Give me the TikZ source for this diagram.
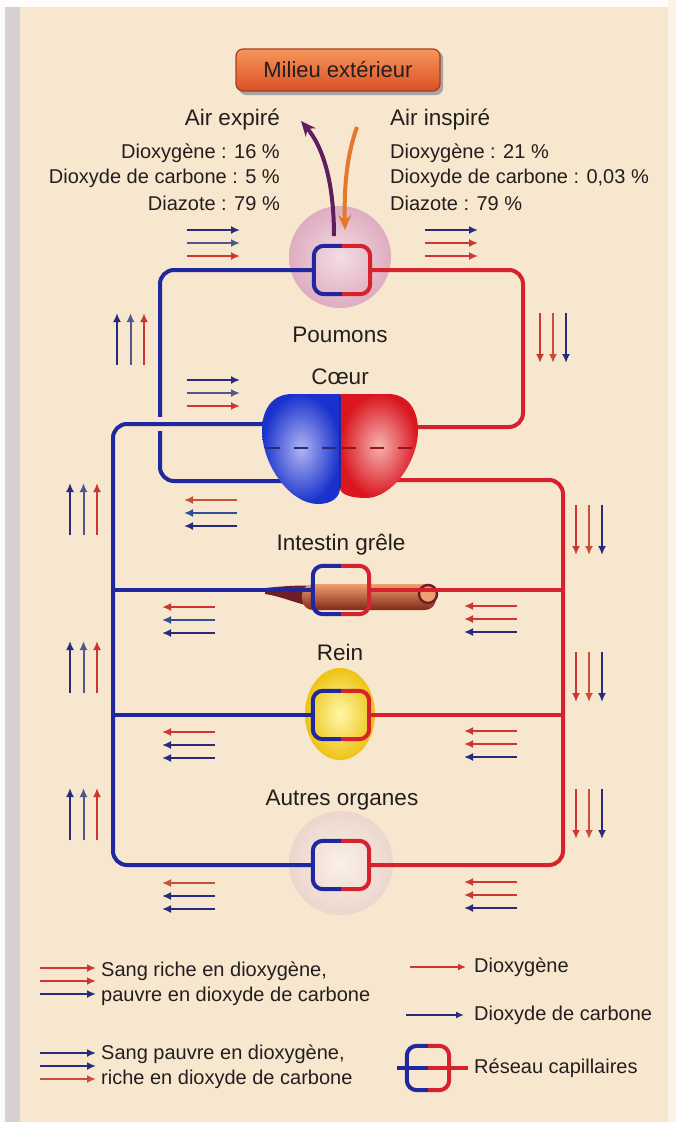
\documentclass[tikz,border=0pt]{standalone}
\usepackage{fontspec}
\setmainfont{Liberation Sans}
\usetikzlibrary{arrows.meta,shapes.geometric}

\definecolor{paper}{RGB}{247,231,206}
\definecolor{strip}{RGB}{214,207,212}
\definecolor{ink}{RGB}{35,30,30}
\definecolor{vblue}{RGB}{32,40,160}
\definecolor{vred}{RGB}{214,34,44}
\definecolor{anavy}{RGB}{40,42,125}
\definecolor{aslate}{RGB}{78,88,140}
\definecolor{ateal}{RGB}{45,80,150}
\definecolor{ared}{RGB}{205,55,50}
\definecolor{aorange}{RGB}{200,80,55}
\definecolor{exhale}{RGB}{95,30,95}
\definecolor{inhale}{RGB}{228,120,45}
\definecolor{boxtop}{RGB}{246,150,90}
\definecolor{boxbot}{RGB}{218,80,38}
\definecolor{boxedge}{RGB}{170,60,30}
\definecolor{gutlight}{RGB}{238,160,110}
\definecolor{gutdark}{RGB}{130,40,25}
\definecolor{gutedge}{RGB}{110,30,40}
\definecolor{lungin}{RGB}{243,220,228}
\definecolor{lungout}{RGB}{222,172,192}
\definecolor{kidneyin}{RGB}{255,248,170}
\definecolor{kidneyout}{RGB}{238,195,20}
\definecolor{tissuein}{RGB}{250,240,230}
\definecolor{tissueout}{RGB}{236,214,205}
\definecolor{heartbluein}{RGB}{175,180,242}
\definecolor{heartblueout}{RGB}{25,50,205}
\definecolor{heartredin}{RGB}{246,178,175}
\definecolor{heartredout}{RGB}{218,22,32}
\definecolor{heartseam}{RGB}{150,20,30}

\tikzset{
  vessel/.style={line width=4pt, line cap=round, rounded corners=14pt},
  capnet/.style={minimum width=56pt, minimum height=48pt, inner sep=0pt, draw=none},
  caphalf/.style={line width=4pt, rounded corners=10pt},
  flow/.style={line width=2pt, -{Latex[length=9pt,width=8pt]}},
  thinflow/.style={line width=1.5pt, -{Latex[length=8pt,width=7pt]}},
  txt/.style={font=\fontsize{20}{24}\selectfont, text=ink, inner sep=0pt},
  organ/.style={font=\fontsize{22.5}{26}\selectfont, text=ink, inner sep=0pt},
  airarrow/.style={line width=4pt, -{Stealth[length=15pt,width=13pt]}},
}

\begin{document}
\begin{tikzpicture}[x=1pt,y=-1pt]
\useasboundingbox (0,0) rectangle (676,1122);

% paper and page edge
\fill[paper] (0,0) rectangle (676,1122);
\fill[white!92!paper] (0,0) rectangle (676,7);
\fill[white!90!strip] (0,0) rectangle (5,1122);
\fill[strip] (5,7) rectangle (20,1122);
\fill[white!50!paper] (668,0) rectangle (676,1122);

% ---------- organs (under the vessels) ----------
\node[circle, minimum size=102pt, inner sep=0pt] (poumons) at (340,257) {};
\shade[inner color=lungin, outer color=lungout] (poumons.center) circle (51);

% small intestine
\node[minimum width=175pt, minimum height=30pt, inner sep=0pt] (intestin) at (352,597) {};
\fill[gutedge] (265,588) .. controls (285,586) and (300,585) .. (310,586)
  -- (310,606) .. controls (295,603) and (280,596) .. (265,594) -- cycle;
\shade[top color=gutlight, bottom color=gutdark, rounded corners=11pt] (302,584) rectangle (436,610);
\draw[line width=2.5pt, gutedge, fill=gutlight] (428,594) circle (9);

% kidney
\node[ellipse, minimum width=70pt, minimum height=92pt, inner sep=0pt] (rein) at (340,714) {};
\shade[inner color=kidneyin, outer color=kidneyout] (rein.center) ellipse (35 and 46);

% other organs
\node[circle, minimum size=104pt, inner sep=0pt] (autres) at (341,863) {};
\shade[inner color=tissuein, outer color=tissueout] (autres.center) circle (52);

% ---------- capillary networks ----------
\node[capnet] (capP) at (342,270) {};
\node[capnet] (capI) at (341,590) {};
\node[capnet] (capR) at (341,715) {};
\node[capnet] (capA) at (341,865) {};

% heart attachment points
\coordinate (hBlueUp) at (285,424);
\coordinate (hBlueLow) at (290,481);
\coordinate (hRedUp) at (395,427);
\coordinate (hRedLow) at (395,480);

% ---------- vessels ----------
% pulmonary circuit
\draw[vessel, vblue] (hBlueLow) -- (160,481) -- (160,270) -- (capP.west);
\draw[vessel, vred] (capP.east) -- (523,270) -- (523,427) -- (hRedUp);
% systemic circuit (with a gap where it crosses the pulmonary return)
\draw[line width=14pt, paper] (140,424) -- (180,424);
\draw[vessel, vblue] (hBlueUp) -- (113,424) -- (113,865) -- (capA.west);
\draw[vessel, vblue] (113,590) -- (capI.west);
\draw[vessel, vblue] (113,715) -- (capR.west);
\draw[vessel, vred] (hRedLow) -- (563,480) -- (563,865) -- (capA.east);
\draw[vessel, vred] (capI.east) -- (563,590);
\draw[vessel, vred] (capR.east) -- (563,715);

% capillary loops: venous half blue, arterial half red
\foreach \cn in {capP,capI,capR,capA} {
  \draw[caphalf, vblue] (\cn.north) -- (\cn.north west) -- (\cn.south west) -- (\cn.south);
  \draw[caphalf, vred] (\cn.north) -- (\cn.north east) -- (\cn.south east) -- (\cn.south);
}

% ---------- heart ----------
\node[minimum width=156pt, minimum height=110pt, inner sep=0pt] (coeur) at (340,449) {};
\shade[inner color=heartbluein, outer color=heartblueout]
  (340,394) -- (292,394) .. controls (272,394) and (262,410) .. (262,430)
  .. controls (262,465) and (290,504) .. (318,504)
  .. controls (332,504) and (340,497) .. (340,488) -- cycle;
\shade[inner color=heartredin, outer color=heartredout]
  (340,394) -- (388,394) .. controls (408,394) and (418,410) .. (418,430)
  .. controls (418,462) and (392,498) .. (366,498)
  .. controls (350,498) and (340,494) .. (340,488) -- cycle;
\draw[line width=2pt, vblue] (340,396) -- (340,488);
\draw[line width=2pt, anavy, dash pattern=on 14pt off 14pt] (266,448) -- (339,448);
\draw[line width=2pt, heartseam, dash pattern=on 14pt off 14pt] (342,448) -- (414,448);

% ---------- outside air ----------
\fill[black!35, rounded corners=7pt] (239,51) rectangle (443,95);
\node[top color=boxtop, bottom color=boxbot, draw=boxedge, line width=1.2pt, rounded corners=7pt,
  minimum width=204pt, minimum height=42pt, inner sep=0pt,
  font=\fontsize{22}{26}\selectfont, text=ink] (milieu) at (338,70) {Milieu extérieur};

\coordinate (exhStart) at (334,236);
\coordinate (exhEnd) at (301,121);
\coordinate (inhStart) at (357,127);
\coordinate (inhEnd) at (345,230);
\draw[airarrow, exhale] (exhStart) .. controls (334,185) and (324,148) .. (exhEnd);
\draw[airarrow, inhale] (inhStart) .. controls (347,155) and (344,185) .. (inhEnd);

\node[organ, anchor=east] (airexp) at (280,120) {Air expiré};
\node[txt, anchor=east] (exp1) at (280,153) {Dioxygène : 16 \%};
\node[txt, anchor=east] (exp2) at (280,178) {Dioxyde de carbone : 5 \%};
\node[txt, anchor=east] (exp3) at (280,203) {Diazote : 79 \%};
\node[organ, anchor=west] (airins) at (390,120) {Air inspiré};
\node[txt, anchor=west] (ins1) at (390,153) {Dioxygène : 21 \%};
\node[txt, anchor=west] (ins2) at (390,178) {Dioxyde de carbone : 0,03 \%};
\node[txt, anchor=west] (ins3) at (390,203) {Diazote : 79 \%};

% ---------- organ labels ----------
\node[organ] (lPoumons) at (340,335) {Poumons};
\node[organ] (lCoeur) at (340,377) {Cœur};
\node[organ] (lIntestin) at (341,545) {Intestin grêle};
\node[organ] (lRein) at (340,652) {Rein};
\node[organ] (lAutres) at (342,800) {Autres organes};

% ---------- flows of gases in the blood ----------
% rightward triplets
\foreach \nm/\x/\y/\ca/\cb/\cc in {A/187/230/anavy/aslate/ared, B/425/230/anavy/ared/ared, E/187/380/anavy/aslate/ared} {
  \coordinate (flow\nm) at (\x,\y);
  \draw[flow, \ca] (flow\nm) -- ++(53,0);
  \draw[flow, \cb] ([yshift=-13pt]flow\nm) -- ++(53,0);
  \draw[flow, \cc] ([yshift=-26pt]flow\nm) -- ++(53,0);
}
% leftward triplets
\foreach \nm/\x/\y/\ca/\cb/\cc in {F/237/500/aorange/ateal/anavy, I/215/607/ared/ateal/anavy,
    J/517/606/ared/ared/anavy, M/215/732/ared/anavy/anavy, N/517/731/ared/ared/anavy,
    Q/215/883/aorange/anavy/anavy, R/517/882/ared/ared/anavy} {
  \coordinate (flow\nm) at (\x,\y);
  \draw[flow, \ca] (flow\nm) -- ++(-53,0);
  \draw[flow, \cb] ([yshift=-13pt]flow\nm) -- ++(-53,0);
  \draw[flow, \cc] ([yshift=-26pt]flow\nm) -- ++(-53,0);
}
% upward triplets
\foreach \nm/\x/\y in {C/117/365, G/70/535, K/70/693, O/70/840} {
  \coordinate (flow\nm) at (\x,\y);
  \draw[flow, anavy] (flow\nm) -- ++(0,-52);
  \draw[flow, aslate] ([xshift=13.5pt]flow\nm) -- ++(0,-52);
  \draw[flow, ared] ([xshift=27pt]flow\nm) -- ++(0,-52);
}
% downward triplets
\foreach \nm/\x/\y in {D/540/313, H/576/505, L/576/652, P/576/789} {
  \coordinate (flow\nm) at (\x,\y);
  \draw[flow, ared] (flow\nm) -- ++(0,50);
  \draw[flow, aorange] ([xshift=13pt]flow\nm) -- ++(0,50);
  \draw[flow, anavy] ([xshift=26pt]flow\nm) -- ++(0,50);
}

% ---------- legend ----------
\coordinate (legOxy) at (40,968);
\draw[flow, ared] (legOxy) -- ++(56,0);
\draw[flow, ared] ([yshift=-13pt]legOxy) -- ++(56,0);
\draw[flow, anavy] ([yshift=-26pt]legOxy) -- ++(56,0);
\node[txt, anchor=west] (legOxyA) at (101,971) {Sang riche en dioxygène,};
\node[txt, anchor=west] (legOxyB) at (101,996) {pauvre en dioxyde de carbone};

\coordinate (legCarb) at (40,1053);
\draw[flow, anavy] (legCarb) -- ++(56,0);
\draw[flow, anavy] ([yshift=-13pt]legCarb) -- ++(56,0);
\draw[flow, aorange] ([yshift=-26pt]legCarb) -- ++(56,0);
\node[txt, anchor=west] (legCarbA) at (101,1054) {Sang pauvre en dioxygène,};
\node[txt, anchor=west] (legCarbB) at (101,1079) {riche en dioxyde de carbone};

\coordinate (legO2) at (410,967);
\draw[thinflow, ared] (legO2) -- ++(56,0);
\node[txt, anchor=west] (legO2t) at (474,967) {Dioxygène};
\coordinate (legCO2) at (406,1015);
\draw[thinflow, anavy] (legCO2) -- ++(58,0);
\node[txt, anchor=west] (legCO2t) at (474,1015) {Dioxyde de carbone};

\node[capnet, minimum width=42pt, minimum height=44pt] (capLeg) at (428,1068) {};
\coordinate (legNetL) at (397,1068);
\coordinate (legNetR) at (468,1068);
\draw[line width=4pt, vblue] (legNetL) -- (capLeg.center);
\draw[line width=4pt, vred] (capLeg.center) -- (legNetR);
\draw[caphalf, vblue] (capLeg.north) -- (capLeg.north west) -- (capLeg.south west) -- (capLeg.south);
\draw[caphalf, vred] (capLeg.north) -- (capLeg.north east) -- (capLeg.south east) -- (capLeg.south);
\node[txt, anchor=west] (legNett) at (474,1068) {Réseau capillaires};

\end{tikzpicture}
\end{document}
